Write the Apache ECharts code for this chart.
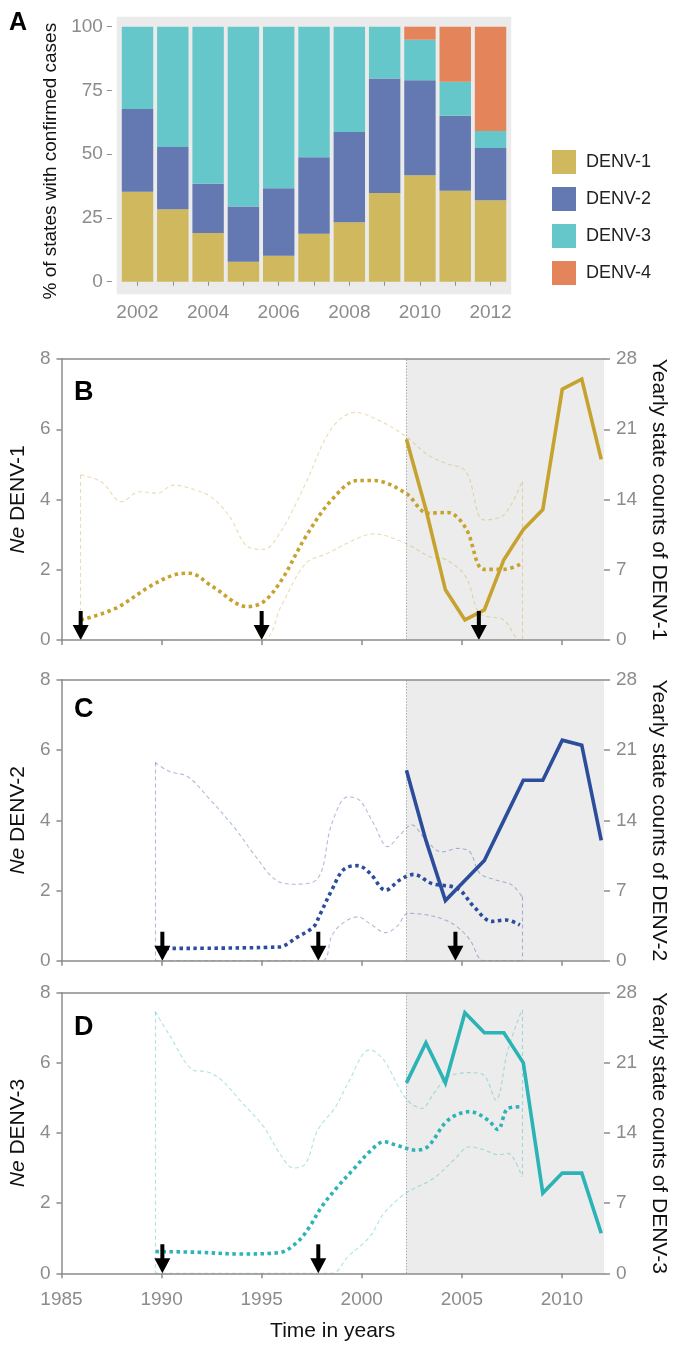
<!DOCTYPE html>
<html>
<head>
<meta charset="utf-8">
<script src="https://cdn.jsdelivr.net/npm/echarts@6/dist/echarts.min.js"></script>
<style>html,body{margin:0;padding:0;background:#fff}#c{width:677px;height:1349px}</style>
</head>
<body>
<div id="c"></div>
<script>
// ---- Panel A data (% of states with confirmed cases) ----
const yearsA = ['2002','2003','2004','2005','2006','2007','2008','2009','2010','2011','2012'];
const denv1Pct = [35.3, 28.4, 19.1, 7.8, 10.2, 18.8, 23.3, 34.8, 41.7, 35.7, 31.9];
const denv2Pct = [32.4, 24.4, 19.3, 21.7, 26.4, 30.0, 35.4, 44.9, 37.3, 29.4, 20.5];
const denv3Pct = [32.3, 47.2, 61.6, 70.5, 63.4, 51.2, 41.3, 20.3, 15.9, 13.3, 6.7];
const denv4Pct = [0, 0, 0, 0, 0, 0, 0, 0, 5.1, 21.6, 40.9];
const pctTicks = [0, 25, 50, 75, 100];

// ---- Yearly state counts (right axes) ----
const countYears = [2002,2003,2004,2005,2006,2007,2008,2009,2010,2011,2012];
const countD1 = [20, 13, 5, 2, 3, 8, 11, 13, 25, 26, 18];
const countD2 = [19, 12, 6, 8, 10, 14, 18, 18, 22, 21.5, 12];
const countD3 = [19, 23, 19, 26, 24, 24, 21, 8, 10, 10, 4];

// ---- Ne (median and 95% bounds), [year, Ne] ----
const neD1Med = [[1985.96,0.57],[1987.7,0.9],[1989.4,1.52],[1990.6,1.85],[1991.4,1.9],[1992.55,1.52],[1994.3,0.95],[1995.1,1.09],[1996.0,1.71],[1997.2,2.94],[1998.5,3.99],[1999.8,4.54],[2000.6,4.54],[2002.2,4.18],[2003.3,3.61],[2004.3,3.63],[2005.2,3.18],[2006.1,2.01],[2007.1,2.01],[2008.0,2.18]];
const neD1Hi = [[1985.96,4.7],[1987.0,4.5],[1988.0,3.94],[1988.9,4.22],[1989.8,4.18],[1990.6,4.41],[1991.7,4.27],[1992.55,4.04],[1993.4,3.51],[1994.3,2.66],[1995.1,2.58],[1996.0,3.13],[1997.2,4.46],[1998.5,6.03],[1999.7,6.48],[2000.8,6.27],[2002.2,5.8],[2003.3,5.27],[2004.2,5.03],[2005.2,4.8],[2006.1,3.42],[2007.1,3.56],[2008.0,4.51]];
const neD1Lo = [[1985.96,0],[1995.0,0],[1996.0,1.0],[1997.2,2.18],[1998.3,2.47],[1999.8,2.9],[2000.6,3.02],[2002.2,2.75],[2003.4,2.37],[2004.2,2.29],[2005.2,1.8],[2005.9,0.76],[2007.1,0.57],[2007.9,0],[2008.0,0]];

const neD2Med = [[1990.2,0.35],[1995.85,0.39],[1996.8,0.68],[1997.6,0.97],[1997.9,1.3],[1998.5,2.01],[1999.1,2.6],[1999.8,2.71],[2000.4,2.5],[2001.2,2.01],[2001.9,2.3],[2002.6,2.46],[2003.5,2.2],[2004.8,2.05],[2005.6,1.54],[2006.5,1.12],[2007.2,1.16],[2007.9,1.02]];
const neD2Hi = [[1989.68,5.65],[1990.4,5.39],[1991.3,5.25],[1992.3,4.67],[1993.6,3.82],[1994.7,2.97],[1995.7,2.3],[1996.6,2.18],[1997.8,2.34],[1998.5,3.9],[1999.3,4.67],[1999.9,4.57],[2000.6,3.9],[2001.3,3.25],[2001.9,3.58],[2002.5,3.87],[2003.2,3.44],[2004.0,3.1],[2004.8,3.2],[2005.4,3.1],[2005.9,2.49],[2006.7,2.3],[2007.5,2.16],[2008.0,1.83]];
const neD2Lo = [[1989.68,0],[1998.0,0],[1998.5,0.7],[1999.0,1.05],[1999.8,1.25],[2000.4,1.06],[2001.2,0.8],[2001.8,1.0],[2002.3,1.35],[2003.3,1.3],[2004.2,1.15],[2004.8,0.95],[2005.4,0.6],[2006.1,0],[2008.0,0]];

const neD3Med = [[1989.7,0.62],[1991.8,0.6],[1993.9,0.55],[1995.9,0.59],[1996.8,0.9],[1997.4,1.33],[1998.0,1.9],[1998.8,2.47],[1999.7,3.04],[2000.4,3.47],[2001.1,3.75],[2001.7,3.66],[2002.7,3.51],[2003.3,3.61],[2004.3,4.36],[2005.4,4.61],[2006.3,4.37],[2006.8,4.1],[2007.3,4.7],[2008.0,4.75]];
const neD3Hi = [[1989.68,7.46],[1990.4,6.79],[1991.6,5.79],[1992.3,5.74],[1993.0,5.51],[1993.9,4.94],[1995.1,4.18],[1995.9,3.42],[1996.6,3.0],[1997.2,3.13],[1997.8,4.08],[1998.7,4.75],[1999.3,5.41],[2000.4,6.37],[2001.1,6.08],[2002.2,4.99],[2003.0,4.7],[2003.6,5.13],[2004.3,5.6],[2005.4,5.72],[2006.1,5.65],[2006.7,4.94],[2007.3,6.37],[2008.0,7.51]];
const neD3Lo = [[1989.68,0],[1998.5,0],[1999.3,0.47],[2000.4,1.04],[2001.1,1.7],[2002.2,2.28],[2003.6,2.71],[2004.6,3.23],[2005.4,3.61],[2006.1,3.52],[2006.8,3.38],[2007.3,3.42],[2008.0,2.75]];

// ---- arrow years ----
const arrowsD1 = [1985.96, 1995.0, 2005.85];
const arrowsD2 = [1990.04, 1997.83, 2004.68];
const arrowsD3 = [1990.04, 1997.83];

// ---- axis ticks ----
const timeTicks = [1985, 1990, 1995, 2000, 2005, 2010];
const neTicks = [0, 2, 4, 6, 8];
const countTicks = [0, 7, 14, 21, 28];

const FONT = 'Liberation Sans';
const GREY = '#8c8c8c';
const colA = ['#CFB85D', '#6479B1', '#66C7CB', '#E4845A'];

const chart = echarts.init(document.getElementById('c'), null, {renderer: 'canvas'});

const panels = [
  {label: 'B', name: 'DENV-1', grid: {left: 53.3, right: 73, top: 359, bottom: 709},
   color: '#C6A22E', ci: 'rgba(198,162,46,0.36)', med: neD1Med, hi: neD1Hi, lo: neD1Lo, counts: countD1, arrows: arrowsD1, last: false},
  {label: 'C', name: 'DENV-2', grid: {left: 53.3, right: 73, top: 680, bottom: 388.3},
   color: '#2C4C9C', ci: 'rgba(44,76,156,0.38)', med: neD2Med, hi: neD2Hi, lo: neD2Lo, counts: countD2, arrows: arrowsD2, last: false},
  {label: 'D', name: 'DENV-3', grid: {left: 53.3, right: 73, top: 992.7, bottom: 75.7},
   color: '#2BB3B5', ci: 'rgba(43,179,181,0.38)', med: neD3Med, hi: neD3Hi, lo: neD3Lo, counts: countD3, arrows: arrowsD3, last: true}
];

const SEC_MIN = 1984.29, SEC_MAX = 2012.14;
const plain = v => String(v);

const option = {
  animation: false,
  textStyle: {fontFamily: FONT},
  title: [
    {text: 'A', left: 4, top: 6, textStyle: {fontSize: 25, fontWeight: 'bold', color: '#000', fontFamily: FONT}},
    {text: 'B', left: 69, top: 374, textStyle: {fontSize: 27, fontWeight: 'bold', color: '#000', fontFamily: FONT}},
    {text: 'C', left: 69, top: 691, textStyle: {fontSize: 27, fontWeight: 'bold', color: '#000', fontFamily: FONT}},
    {text: 'D', left: 69, top: 1009, textStyle: {fontSize: 27, fontWeight: 'bold', color: '#000', fontFamily: FONT}}
  ],
  legend: {
    orient: 'vertical', left: 547, top: 145, itemWidth: 24, itemHeight: 24, itemGap: 13,
    icon: 'rect', data: ['DENV-1', 'DENV-2', 'DENV-3', 'DENV-4'],
    textStyle: {fontSize: 18, color: '#222', fontFamily: FONT, padding: [0, 0, 0, 5]}
  },
  graphic: [
    {type: 'rect', z: -10, shape: {x: 116.7, y: 16.7, width: 394.5, height: 277.5}, style: {fill: '#EBEBEB'}}
  ],
  grid: [
    {left: 119.85, right: 168.8, top: 26.7, bottom: 1067.3}
  ],
  xAxis: [
    {type: 'category', gridIndex: 0, data: yearsA, offset: 13,
     axisLine: {show: false},
     axisTick: {show: true, alignWithLabel: true, interval: 0, length: 4, lineStyle: {color: GREY, width: 1}},
     axisLabel: {interval: 1, fontSize: 19, color: GREY, margin: 9, fontFamily: FONT}}
  ],
  yAxis: [
    {type: 'value', gridIndex: 0, min: 0, max: 100, interval: 25, offset: 8,
     axisLine: {show: false}, splitLine: {show: false},
     axisTick: {show: true, length: 5, lineStyle: {color: GREY, width: 1}},
     axisLabel: {fontSize: 19, color: GREY, margin: 9, fontFamily: FONT, customValues: pctTicks},
     name: '% of states with confirmed cases', nameLocation: 'middle', nameGap: 48, nameRotate: 90,
     nameTextStyle: {fontSize: 19, color: '#111', fontFamily: FONT, padding: [0, 14, 0, 0]}}
  ],
  series: [
    {name: 'DENV-1', type: 'bar', stack: 'a', xAxisIndex: 0, yAxisIndex: 0, data: denv1Pct, itemStyle: {color: colA[0]}, barCategoryGap: '11%'},
    {name: 'DENV-2', type: 'bar', stack: 'a', xAxisIndex: 0, yAxisIndex: 0, data: denv2Pct, itemStyle: {color: colA[1]}},
    {name: 'DENV-3', type: 'bar', stack: 'a', xAxisIndex: 0, yAxisIndex: 0, data: denv3Pct, itemStyle: {color: colA[2]}},
    {name: 'DENV-4', type: 'bar', stack: 'a', xAxisIndex: 0, yAxisIndex: 0, data: denv4Pct, itemStyle: {color: colA[3]}}
  ]
};

panels.forEach((p, i) => {
  const g = i + 1;
  option.grid.push(p.grid);
  const xP = option.xAxis.length;
  option.xAxis.push({
    type: 'value', gridIndex: g, min: 1985, max: 2012.1, position: 'bottom', z: 10,
    axisLine: {show: true, onZero: false, lineStyle: {color: GREY, width: 1.5}},
    axisTick: {show: true, length: 5, customValues: timeTicks, lineStyle: {color: GREY, width: 1.5}},
    axisLabel: {show: p.last, customValues: timeTicks, formatter: plain, fontSize: 19, color: GREY, margin: 17, fontFamily: FONT},
    splitLine: {show: false},
    name: p.last ? 'Time in years' : '', nameLocation: 'middle', nameGap: 47,
    nameTextStyle: {fontSize: 21, color: '#111', fontFamily: FONT}
  });
  const xS = option.xAxis.length;
  option.xAxis.push({
    type: 'value', gridIndex: g, min: SEC_MIN, max: SEC_MAX, position: 'top', z: 10,
    axisLine: {show: true, onZero: false, lineStyle: {color: GREY, width: 1.5}},
    axisTick: {show: false}, axisLabel: {show: false}, splitLine: {show: false}
  });
  const yL = option.yAxis.length;
  option.yAxis.push({
    type: 'value', gridIndex: g, min: 0, max: 8, position: 'left', z: 10,
    axisLine: {show: true, onZero: false, lineStyle: {color: GREY, width: 1.5}},
    axisTick: {show: true, length: 5, customValues: neTicks, lineStyle: {color: GREY, width: 1.5}},
    axisLabel: {customValues: neTicks, fontSize: 19, color: GREY, margin: 11, fontFamily: FONT},
    splitLine: {show: false},
    name: '{i|Ne} ' + p.name, nameLocation: 'middle', nameGap: 29, nameRotate: 90,
    nameTextStyle: {fontSize: 21, color: '#111', fontFamily: FONT,
      rich: {i: {fontStyle: 'italic', fontSize: 21, color: '#111', fontFamily: FONT}}}
  });
  const yR = option.yAxis.length;
  option.yAxis.push({
    type: 'value', gridIndex: g, min: 0, max: 28, position: 'right', z: 10,
    axisLine: {show: false},
    axisTick: {show: true, length: 6, customValues: countTicks, lineStyle: {color: GREY, width: 1.5}},
    axisLabel: {customValues: countTicks, fontSize: 19, color: GREY, margin: 12, fontFamily: FONT},
    splitLine: {show: false},
    name: 'Yearly state counts of ' + p.name, nameLocation: 'middle', nameGap: 42, nameRotate: -90,
    nameTextStyle: {fontSize: 21, color: '#111', fontFamily: FONT}
  });

  const ciStyle = {color: p.ci, width: 1.1, type: [4, 3]};
  const hiLast = p.hi[p.hi.length - 1], loLast = p.lo[p.lo.length - 1];
  option.series.push({
    type: 'line', xAxisIndex: xP, yAxisIndex: yL, data: p.hi, smooth: 0.35, symbol: 'none', z: 3,
    lineStyle: ciStyle, silent: true,
    markLine: {silent: true, symbol: ['none', 'none'], label: {show: false}, lineStyle: ciStyle,
      data: [[{coord: p.hi[0]}, {coord: p.lo[0]}], [{coord: hiLast}, {coord: loLast}]]}
  });
  option.series.push({
    type: 'line', xAxisIndex: xP, yAxisIndex: yL, data: p.lo, smooth: 0.35, symbol: 'none', z: 3,
    lineStyle: ciStyle, silent: true
  });
  option.series.push({
    type: 'line', xAxisIndex: xP, yAxisIndex: yL, data: p.med, smooth: 0.35, symbol: 'none', z: 4,
    lineStyle: {color: p.color, width: 3.6, type: [3.5, 3.5], cap: 'butt'}, silent: true
  });
  option.series.push({
    type: 'line', xAxisIndex: xS, yAxisIndex: yR, data: countYears.map((y, k) => [y, p.counts[k]]),
    symbol: 'none', z: 5, lineStyle: {color: p.color, width: 3.6, join: 'miter'}, silent: true,
    markArea: {silent: true, itemStyle: {color: '#ECECEC'},
      data: [[{xAxis: countYears[0]}, {xAxis: SEC_MAX}]]},
    markLine: {silent: true, symbol: ['none', 'none'], label: {show: false},
      lineStyle: {color: '#a8a8a8', type: [1.5, 1.5], width: 1},
      data: [{xAxis: countYears[0]}]}
  });
  option.series.push({
    type: 'scatter', xAxisIndex: xP, yAxisIndex: yL, z: 6, silent: true,
    data: p.arrows.map(x => [x, 0]),
    symbol: 'path://M6,0 L10,0 L10,14 L16,14 L8,29 L0,14 L6,14 Z',
    symbolSize: [16, 29], symbolOffset: [0, '-50%'], symbolKeepAspect: false,
    itemStyle: {color: '#000', opacity: 1}
  });
});

chart.setOption(option);
</script>
</body>
</html>
